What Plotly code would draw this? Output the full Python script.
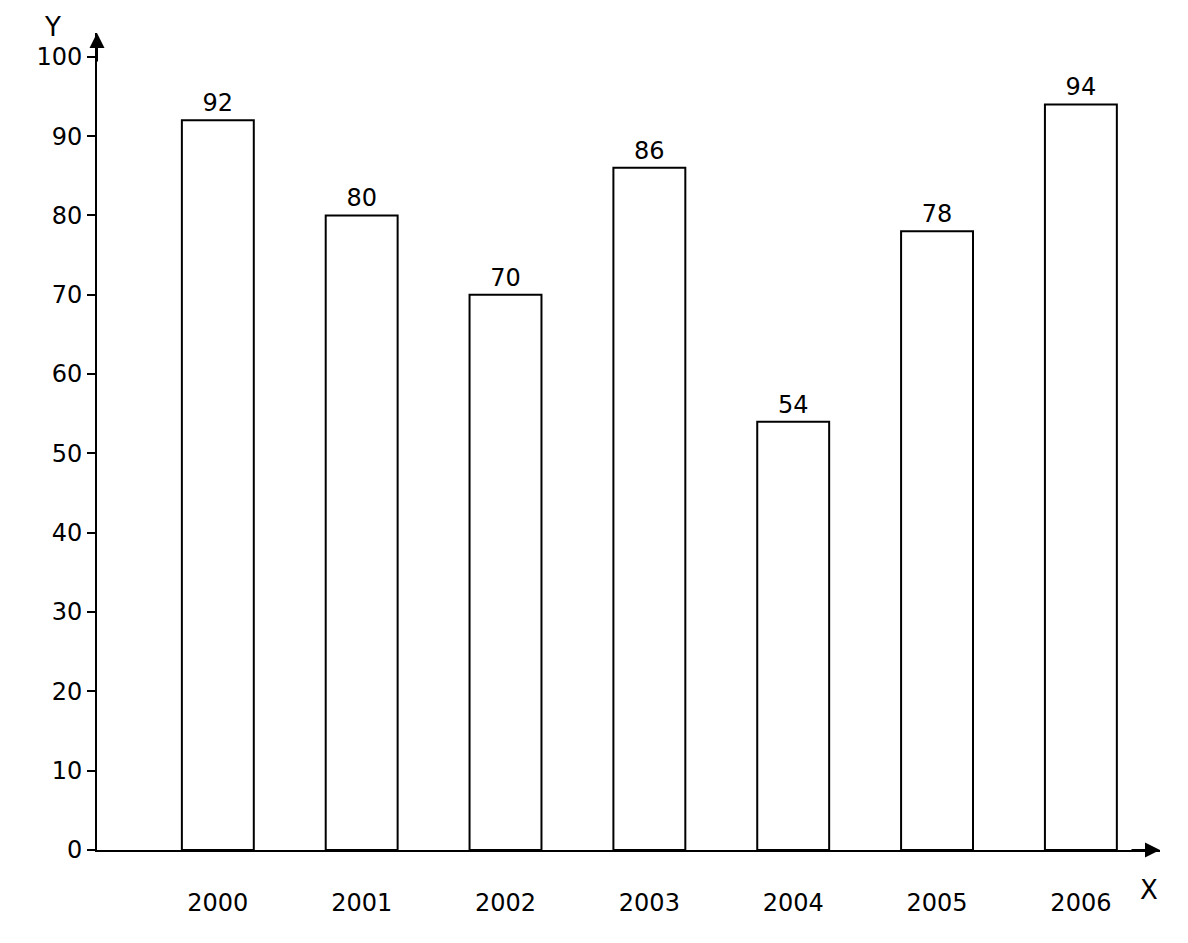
import plotly.graph_objects as go

# 数据
years = ["2000", "2001", "2002", "2003", "2004", "2005", "2006"]
values = [92, 80, 70, 86, 54, 78, 94]
y_ticks = [0, 10, 20, 30, 40, 50, 60, 70, 80, 90, 100]

font_family = "DejaVu Sans"

fig = go.Figure()
fig.add_trace(go.Bar(
    x=years, y=values,
    text=[str(v) for v in values], textposition="outside",
    textfont=dict(size=24, color="black", family=font_family),
    marker=dict(color="white", line=dict(color="black", width=2)),
    width=0.5, cliponaxis=False,
))

# 页面 body 默认有 8px 边距，这里在 margin 中抵消
fig.update_layout(
    width=1188, height=943,
    plot_bgcolor="white", paper_bgcolor="white",
    margin=dict(l=89, r=36, t=25, b=101),
    showlegend=False,
    font=dict(family=font_family, size=24, color="black"),
)
fig.update_xaxes(
    type="category", range=[-0.84, 6.55], automargin=False,
    showline=True, linecolor="black", linewidth=2,
    ticks="", showgrid=False, ticklabelstandoff=30,
    tickfont=dict(size=24),
)
fig.update_yaxes(
    range=[0, 103], tickvals=y_ticks, automargin=False,
    showline=True, linecolor="black", linewidth=2,
    ticks="outside", ticklen=8, tickcolor="black", tickwidth=2,
    showgrid=False, zeroline=False, tickfont=dict(size=24),
)

# 坐标轴箭头和标签
fig.add_annotation(x=0, y=1.0, xref="paper", yref="paper", ax=0, ay=30,
                   showarrow=True, arrowhead=2, arrowsize=1.5, arrowwidth=2, arrowcolor="black", text="")
fig.add_annotation(x=1.0, y=0, xref="paper", yref="paper", ax=-30, ay=0,
                   showarrow=True, arrowhead=2, arrowsize=1.5, arrowwidth=2, arrowcolor="black", text="")
fig.add_annotation(x=-0.052, y=1.028, xref="paper", yref="paper", yanchor="top", text="Y",
                   showarrow=False, font=dict(size=26))
fig.add_annotation(x=1.0, y=-0.07, xref="paper", yref="paper", text="X",
                   showarrow=False, font=dict(size=26))

fig.write_html("out.html")
